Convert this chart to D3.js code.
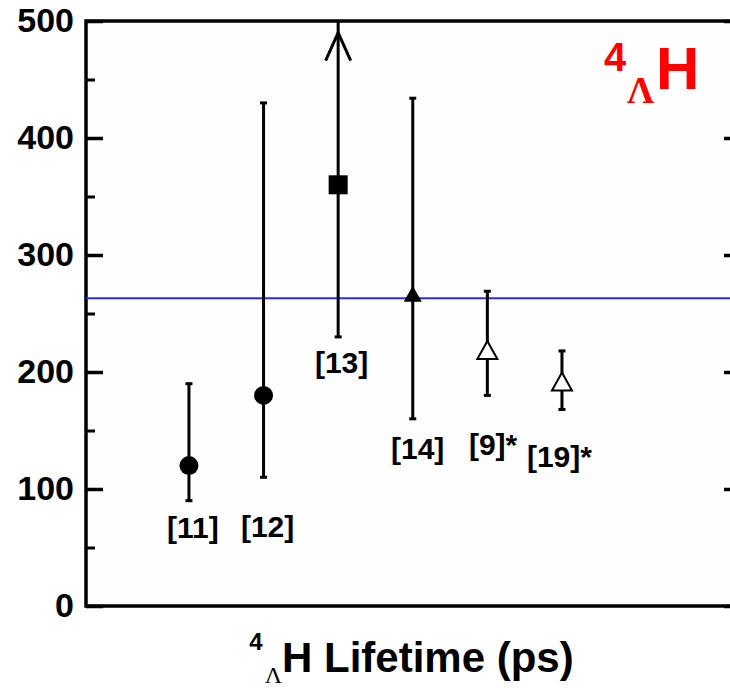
<!DOCTYPE html>
<html>
<head>
<meta charset="utf-8">
<script src="https://cdn.jsdelivr.net/npm/d3@7"></script>
<style>
  body { margin: 0; background: #fff; }
  svg { display: block; }
</style>
</head>
<body>
<script>
// reference labels and positions along the (categorical) x axis
const refs = ["[11]", "[12]", "[13]", "[14]", "[9]*", "[19]*"];
const positions = [1, 2, 3, 4, 5, 6];
// lifetime values (ps) with error bar limits
const values = [120, 180, 360, 266, 218, 191];
const lows = [90, 110, 230, 160, 180, 168];
const highs = [190, 430, 500, 434, 269, 218];
const markers = ["circle", "circle", "square", "triangle", "triangleOpen", "triangleOpen"];
const upperOpen = [false, false, true, false, false, false]; // arrow = no upper limit
// label anchors (x in category units, y in ps)
const labelPos = [0.705, 1.697, 2.689, 3.708, 4.753, 5.53];
const labelVal = [58, 59, 199, 126, 129, 119];
const average = 263;
const majorTicks = [0, 100, 200, 300, 400, 500];
const minorTicks = [50, 150, 250, 350, 450];

const width = 730;
const height = 688;
const plot = { left: 86, right: 741, top: 21, bottom: 606 };

const svg = d3.select("body").append("svg")
  .attr("width", width)
  .attr("height", height);

const x = d3.scaleLinear().domain([-0.38, 8.4]).range([plot.left, plot.right]);
const y = d3.scaleLinear().domain([0, 500]).range([plot.bottom, plot.top]);

// plot background
svg.append("rect")
  .attr("x", plot.left).attr("y", plot.top)
  .attr("width", plot.right - plot.left).attr("height", plot.bottom - plot.top)
  .attr("fill", "#fefefe");

// left axis, ticks pointing inward
const leftAxis = svg.append("g")
  .attr("transform", `translate(${plot.left},0)`)
  .call(d3.axisLeft(y).tickValues(majorTicks).tickSize(-17).tickPadding(12).tickFormat(d3.format("d")));
leftAxis.select(".domain").remove();
leftAxis.selectAll("line").attr("stroke", "#000").attr("stroke-width", 3.5);
leftAxis.selectAll("text")
  .attr("font-family", "Liberation Sans, Arial, sans-serif")
  .attr("font-weight", "bold")
  .attr("font-size", 34)
  .attr("fill", "#000");

const leftMinor = svg.append("g")
  .attr("transform", `translate(${plot.left},0)`)
  .call(d3.axisLeft(y).tickValues(minorTicks).tickSize(-9).tickFormat(""));
leftMinor.select(".domain").remove();
leftMinor.selectAll("line").attr("stroke", "#000").attr("stroke-width", 3);

// right axis, ticks pointing inward
const rightAxis = svg.append("g")
  .attr("transform", `translate(${plot.right},0)`)
  .call(d3.axisRight(y).tickValues(majorTicks).tickSize(-17).tickFormat(""));
rightAxis.select(".domain").remove();
rightAxis.selectAll("line").attr("stroke", "#000").attr("stroke-width", 3.5);

const rightMinor = svg.append("g")
  .attr("transform", `translate(${plot.right},0)`)
  .call(d3.axisRight(y).tickValues(minorTicks).tickSize(-9).tickFormat(""));
rightMinor.select(".domain").remove();
rightMinor.selectAll("line").attr("stroke", "#000").attr("stroke-width", 3);

// frame
svg.append("rect")
  .attr("x", plot.left).attr("y", plot.top)
  .attr("width", plot.right - plot.left).attr("height", plot.bottom - plot.top)
  .attr("fill", "none")
  .attr("stroke", "#000")
  .attr("stroke-width", 3.5);

// average line
svg.append("line")
  .attr("x1", plot.left).attr("x2", plot.right)
  .attr("y1", y(average)).attr("y2", y(average))
  .attr("stroke", "#2b2bf0")
  .attr("stroke-width", 2);

const data = refs.map((r, i) => ({
  ref: r, pos: positions[i], value: values[i], lo: lows[i], hi: highs[i],
  marker: markers[i], open: upperOpen[i], lx: labelPos[i], ly: labelVal[i]
}));

const pts = svg.append("g").selectAll("g")
  .data(data)
  .join("g");

// error bars
pts.append("line")
  .attr("x1", (d) => x(d.pos)).attr("x2", (d) => x(d.pos))
  .attr("y1", (d) => y(d.lo)).attr("y2", (d) => y(d.hi))
  .attr("stroke", "#000").attr("stroke-width", 3);

pts.append("line")
  .attr("x1", (d) => x(d.pos) - 3.5).attr("x2", (d) => x(d.pos) + 3.5)
  .attr("y1", (d) => y(d.lo)).attr("y2", (d) => y(d.lo))
  .attr("stroke", "#000").attr("stroke-width", 3);

pts.filter((d) => !d.open).append("line")
  .attr("x1", (d) => x(d.pos) - 3.5).attr("x2", (d) => x(d.pos) + 3.5)
  .attr("y1", (d) => y(d.hi)).attr("y2", (d) => y(d.hi))
  .attr("stroke", "#000").attr("stroke-width", 3);

// arrow head for open upper limit
pts.filter((d) => d.open).append("path")
  .attr("d", (d) => {
    const cx = x(d.pos), ty = y(490);
    return `M${cx - 12.5},${ty + 28}L${cx},${ty}L${cx + 12.5},${ty + 28}`;
  })
  .attr("fill", "none").attr("stroke", "#000").attr("stroke-width", 3);

// markers
pts.each(function (d) {
  const g = d3.select(this);
  const cx = x(d.pos), cy = y(d.value);
  if (d.marker === "circle") {
    g.append("circle").attr("cx", cx).attr("cy", cy).attr("r", 9.5).attr("fill", "#000");
  } else if (d.marker === "square") {
    g.append("rect").attr("x", cx - 9.5).attr("y", cy - 9.5)
      .attr("width", 19).attr("height", 19).attr("fill", "#000");
  } else if (d.marker === "triangle") {
    g.append("path")
      .attr("d", `M${cx},${cy - 9}L${cx + 9},${cy + 7}L${cx - 9},${cy + 7}Z`)
      .attr("fill", "#000");
  } else {
    g.append("path")
      .attr("d", `M${cx},${cy - 10}L${cx + 10},${cy + 8}L${cx - 10},${cy + 8}Z`)
      .attr("fill", "#fff").attr("stroke", "#000").attr("stroke-width", 2);
  }
});

// reference labels
pts.append("text")
  .attr("x", (d) => x(d.lx))
  .attr("y", (d) => y(d.ly))
  .attr("font-family", "Liberation Sans, Arial, sans-serif")
  .attr("font-weight", "bold")
  .attr("font-size", 30)
  .attr("fill", "#000")
  .text((d) => d.ref);

// x axis title
const title = svg.append("text")
  .attr("x", (plot.left + plot.right) / 2 - 2)
  .attr("y", 672)
  .attr("text-anchor", "middle")
  .attr("font-family", "Liberation Sans, Arial, sans-serif")
  .attr("font-weight", "bold")
  .attr("fill", "#000");
title.append("tspan").attr("font-size", 24).attr("dy", -22).text("4");
title.append("tspan").attr("font-size", 24).attr("font-weight", "normal")
  .attr("font-family", "Liberation Serif, Times New Roman, serif")
  .attr("dx", 2).attr("dy", 33).text("Λ");
title.append("tspan").attr("font-size", 42).attr("dy", -11).text("H Lifetime (ps)");

// red hypernucleus label
const red = svg.append("g").attr("fill", "#f00");
red.append("text").attr("x", 604).attr("y", 71)
  .attr("font-family", "Liberation Sans, Arial, sans-serif")
  .attr("font-weight", "bold").attr("font-size", 40).text("4");
red.append("text").attr("x", 627).attr("y", 103)
  .attr("font-family", "Liberation Serif, Times New Roman, serif")
  .attr("font-weight", "bold").attr("font-size", 38).text("Λ");
red.append("text").attr("x", 656).attr("y", 89)
  .attr("font-family", "Liberation Sans, Arial, sans-serif")
  .attr("font-weight", "bold").attr("font-size", 60).text("H");
</script>
</body>
</html>
